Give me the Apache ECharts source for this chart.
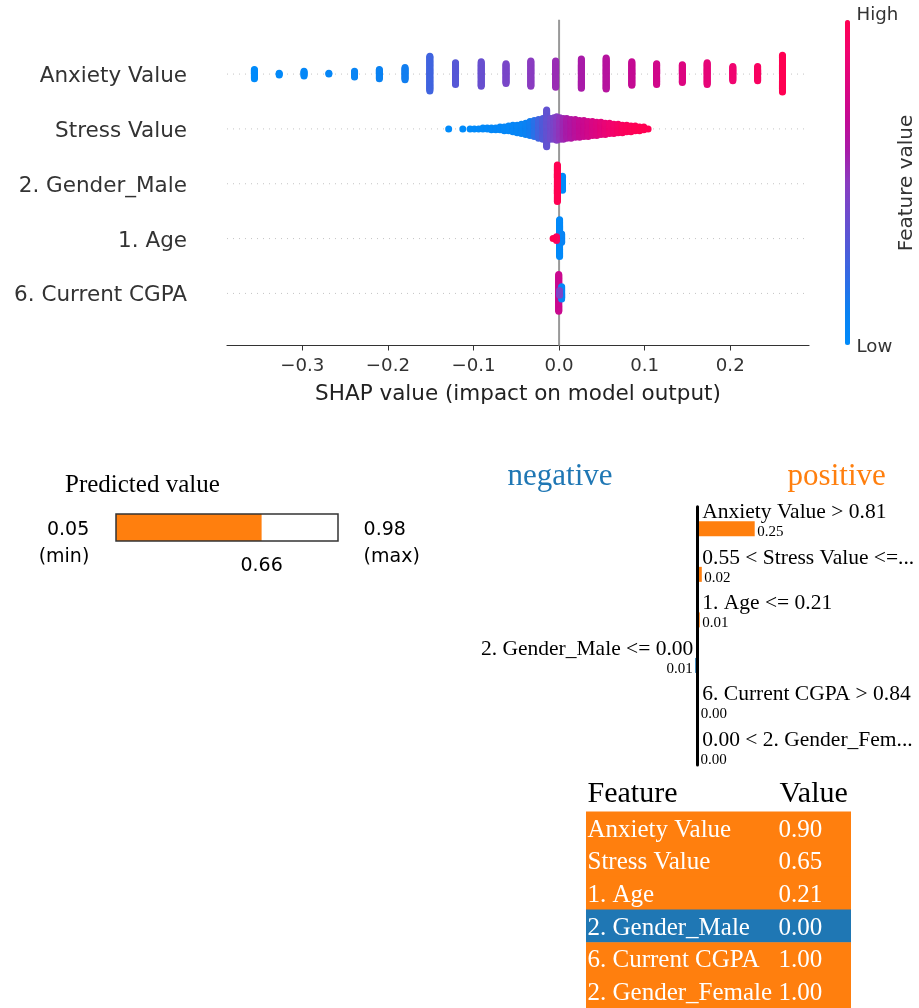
<!DOCTYPE html>
<html><head><meta charset="utf-8">
<style>html,body{margin:0;padding:0;background:#fff}#c{width:919px;height:1008px}</style>
<script src="https://cdn.jsdelivr.net/npm/echarts@6/dist/echarts.min.js"></script>
</head><body><div id="c"></div>
<script>
// ---------------- SHAP beeswarm data ----------------
const shapFeatures = ['6. Current CGPA', '1. Age', '2. Gender_Male', 'Stress Value', 'Anxiety Value']; // bottom -> top
const shapTicks = [-0.3, -0.2, -0.1, 0.0, 0.1, 0.2];
const colorTicks = ['High', 'Low'];

const anxietyShap  = [-0.356, -0.327, -0.298, -0.269, -0.239, -0.210, -0.180, -0.151, -0.121, -0.091, -0.062,
                      -0.033, -0.004, 0.026, 0.055, 0.085, 0.114, 0.144, 0.173, 0.203, 0.232, 0.261];
const anxietyCount = [11, 3, 6, 2, 7, 11, 14, 38, 24, 27, 22, 28, 29, 32, 34, 26, 23, 20, 24, 16, 16, 40];
const anxietyFeat  = [0.0, 0.02, 0.04, 0.06, 0.08, 0.10, 0.12, 0.25, 0.32, 0.38, 0.44, 0.50, 0.55, 0.60, 0.65,
                      0.70, 0.75, 0.80, 0.85, 0.90, 0.95, 1.0];

const stressShap  = [-0.129, -0.1125, -0.104, -0.099, -0.094, -0.089, -0.084, -0.079, -0.074, -0.069, -0.064,
                     -0.059, -0.054, -0.049, -0.044, -0.039, -0.034, -0.029, -0.024, -0.019, -0.0145, -0.010,
                     -0.006, -0.0027, 0.001, 0.005, 0.009, 0.014, 0.019, 0.024, 0.029, 0.034, 0.039, 0.044,
                     0.049, 0.054, 0.059, 0.064, 0.069, 0.074, 0.079, 0.084, 0.089, 0.094, 0.099, 0.104];
const stressCount = [1, 1, 1, 1, 1, 2, 2, 3, 3, 4, 5, 6, 8, 9, 11, 13, 16, 18, 21, 23, 40, 23, 24, 26, 24, 23,
                     22, 21, 20, 19, 18, 17, 16, 15, 14, 13, 12, 11, 10, 9, 8, 7, 6, 5, 4, 1];
const stressFeat  = [0.0, 0.0, 0.01, 0.01, 0.02, 0.02, 0.03, 0.03, 0.04, 0.04, 0.05, 0.05, 0.06, 0.07, 0.08,
                     0.10, 0.12, 0.18, 0.25, 0.30, 0.36, 0.40, 0.44, 0.48, 0.52, 0.56, 0.60, 0.63, 0.66, 0.69,
                     0.72, 0.75, 0.78, 0.80, 0.83, 0.86, 0.89, 0.92, 0.94, 0.96, 0.97, 0.98, 0.99, 1.0, 1.0, 1.0];

const genderShap  = [0.004, -0.002];
const genderCount = [16, 40];
const genderFeat  = [0.0, 1.0];

const ageShap  = [0.0006, 0.003, -0.003, -0.007];
const ageCount = [40, 10, 5, 1];
const ageFeat  = [0.02, 0.08, 0.95, 1.0];

const cgpaShap  = [-0.0004, 0.003, 0.0005];
const cgpaCount = [40, 14, 6];
const cgpaFeat  = [0.72, 0.05, 0.45];

// ---------------- Predicted value ----------------
const predMin = 0.05, predMax = 0.98, predVal = 0.66;

// ---------------- LIME explanation ----------------
const limeLabels = ['Anxiety Value > 0.81', '0.55 < Stress Value <=...', '1. Age <= 0.21',
                    '2. Gender_Male <= 0.00', '6. Current CGPA > 0.84', '0.00 < 2. Gender_Fem...'];
const limeVals = [0.25, 0.018, 0.009, -0.011, 0.002, 0.001];

// ---------------- Feature table ----------------
const tableFeatures = ['Anxiety Value', 'Stress Value', '1. Age', '2. Gender_Male', '6. Current CGPA', '2. Gender_Female'];
const tableVals = [0.90, 0.65, 0.21, 0.00, 1.00, 1.00];

// ---------------- styling ----------------
const ORANGE = '#ff7f0e', BLUE = '#1f77b4';
const SANS = '"DejaVu Sans"', SERIF = '"Liberation Serif"';
const cmap = ['#008bfb', '#0a82f2', '#2f6de6', '#505ad8', '#6e4ccd', '#8a3cc0', '#a81ba8', '#c40a93', '#dc0680', '#f00470', '#ff0052'];
const beeMin = -0.388, beeMax = 0.292, beeYMin = -0.95, beeYMax = 4.99;

// SHAP-style beeswarm layout (same binning/layering as shap.summary_plot)
function beeswarm(shaps, counts, feats, pos) {
  const pts = [];
  shaps.forEach((s, i) => { for (let k = 0; k < counts[i]; k++) pts.push({ x: s, f: feats[i], idx: pts.length }); });
  const xs = pts.map(p => p.x);
  const mn = Math.min(...xs), mx = Math.max(...xs);
  const nbins = 100;
  pts.forEach(p => { p.q = Math.round(nbins * (p.x - mn) / (mx - mn + 1e-8)); });
  const order = pts.slice().sort((a, b) => a.q - b.q || a.idx - b.idx);
  let layer = 0, last = -1;
  order.forEach(p => {
    if (p.q !== last) layer = 0;
    p.ys = Math.ceil(layer / 2) * ((layer % 2) * 2 - 1);
    layer++; last = p.q;
  });
  const maxYs = Math.max(...pts.map(p => p.ys + 1));
  const sc = 0.9 * (0.4 / maxYs);
  return pts.map(p => [p.x, pos + p.ys * sc, p.f]);
}

const beePoints = [].concat(
  beeswarm(cgpaShap, cgpaCount, cgpaFeat, 0),
  beeswarm(ageShap, ageCount, ageFeat, 1),
  beeswarm(genderShap, genderCount, genderFeat, 2),
  beeswarm(stressShap, stressCount, stressFeat, 3),
  beeswarm(anxietyShap, anxietyCount, anxietyFeat, 4)
);

function txt(x, y, text, size, family, fill, align, rotation) {
  return { type: 'text', x: x, y: y, rotation: rotation || 0, silent: true,
    style: { text: text, font: size + 'px ' + family, fill: fill, align: align, verticalAlign: 'middle' } };
}

const chart = echarts.init(document.getElementById('c'), null, { renderer: 'canvas', width: 919, height: 1008 });

const option = {
  animation: false,
  backgroundColor: '#fff',
  grid: [
    { left: 227, top: 19.8, width: 582, height: 325.7 },
    { left: 116, top: 514, width: 222, height: 27 },
    { left: 469.7, top: 506.7, width: 433.2, height: 258.3 },
    { left: 586, top: 811.7, width: 265, height: 196.8 }
  ],
  xAxis: [
    { gridIndex: 0, type: 'value', min: beeMin, max: beeMax,
      axisLine: { onZero: false, lineStyle: { color: '#333', width: 1.2 } },
      axisTick: { customValues: shapTicks, length: 5, lineStyle: { color: '#333', width: 1 } },
      axisLabel: { customValues: shapTicks, showMinLabel: true, showMaxLabel: true,
        formatter: v => v.toFixed(1).replace('-', '\u2212'), fontSize: 18.2, fontFamily: 'DejaVu Sans', color: '#333', margin: 12 },
      splitLine: { show: false },
      name: 'SHAP value (impact on model output)', nameLocation: 'middle', nameGap: 38,
      nameTextStyle: { fontSize: 21.5, fontFamily: 'DejaVu Sans', color: '#222' } },
    { gridIndex: 1, type: 'value', min: predMin, max: predMax, show: false },
    { gridIndex: 2, type: 'value', min: -1, max: 0.9, show: false },
    { gridIndex: 3, type: 'value', min: 0, max: 1, show: false }
  ],
  yAxis: [
    { gridIndex: 0, type: 'value', min: beeYMin, max: beeYMax,
      axisLine: { show: false, onZero: false }, axisTick: { show: false, customValues: [0, 1, 2, 3, 4] },
      splitLine: { show: false },
      axisLabel: { customValues: [0, 1, 2, 3, 4],
        formatter: v => { const n = Number.isInteger(v) && shapFeatures[v]; return n ? '{f|' + n + '}' : ''; },
        margin: 40,
        rich: { f: { fontSize: 21.5, fontFamily: 'DejaVu Sans', color: '#333', padding: [5, 0, 0, 0] } } } },
    { gridIndex: 1, type: 'value', min: -1, max: 1, show: false },
    { gridIndex: 2, type: 'value', inverse: true, min: -0.486, max: 5.187, z: 3,
      axisLine: { show: true, onZero: true, lineStyle: { color: '#000', width: 3 } },
      axisTick: { show: false }, axisLabel: { show: false }, splitLine: { show: false } },
    { gridIndex: 3, type: 'value', inverse: true, min: -0.5, max: 5.5, show: false }
  ],
  visualMap: {
    type: 'continuous', min: 0, max: 1, dimension: 2, seriesIndex: 2, orient: 'vertical',
    left: 845, top: 20, padding: 0, itemWidth: 5, itemHeight: 325, calculable: false, hoverLink: false,
    text: null, inRange: { color: cmap }
  },
  graphic: [
    txt(856.5, 15, colorTicks[0], 18.2, SANS, '#333', 'left'),
    txt(856.5, 347, colorTicks[1], 18.2, SANS, '#333', 'left'),
    txt(907, 183, 'Feature value', 20, SANS, '#333', 'center', Math.PI / 2),
    txt(65, 485, 'Predicted value', 25, SERIF, '#000', 'left'),
    txt(560, 477, 'negative', 31, SERIF, BLUE, 'center'),
    txt(836.7, 477, 'positive', 31, SERIF, ORANGE, 'center'),
    txt(587.5, 794, 'Feature', 30, SERIF, '#000', 'left'),
    txt(779.5, 794, 'Value', 30, SERIF, '#000', 'left')
  ],
  series: [
    { type: 'custom', name: 'rows', xAxisIndex: 0, yAxisIndex: 0, z: 1, silent: true,
      data: shapFeatures.map((_, i) => [0, i]),
      renderItem: (p, api) => {
        const r = api.value(1);
        const a = api.coord([beeMin, r]), b = api.coord([beeMax, r]);
        return { type: 'line', shape: { x1: a[0], y1: a[1], x2: b[0], y2: b[1] },
          style: { stroke: '#c4c4c4', lineWidth: 1, lineDash: [1, 5] } };
      } },
    { type: 'line', name: 'zero', xAxisIndex: 0, yAxisIndex: 0, z: 1, silent: true, symbol: 'none',
      data: [[0, beeYMin], [0, beeYMax]], lineStyle: { color: '#999', width: 2 } },
    { type: 'scatter', name: 'shap', xAxisIndex: 0, yAxisIndex: 0, z: 3, silent: true,
      symbolSize: 7, data: beePoints, itemStyle: { opacity: 1 } },
    { type: 'custom', name: 'pred', xAxisIndex: 1, yAxisIndex: 1, silent: true,
      data: [[predVal, 0]],
      renderItem: (p, api) => {
        const x0 = api.coord([predMin, 0])[0], x1 = api.coord([api.value(0), 0])[0], x2 = api.coord([predMax, 0])[0];
        const yc = api.coord([predMin, 0])[1];
        const h = 27;
        const f = '19px ' + SANS;
        return { type: 'group', children: [
          { type: 'rect', shape: { x: x0, y: yc - h / 2, width: x1 - x0, height: h }, style: { fill: ORANGE } },
          { type: 'rect', shape: { x: x0, y: yc - h / 2, width: x2 - x0, height: h }, style: { fill: 'none', stroke: '#333', lineWidth: 1.5 } },
          { type: 'text', x: x1, y: yc + 38.5, style: { text: predVal.toFixed(2), font: f, fill: '#000', align: 'center', verticalAlign: 'middle' } },
          { type: 'text', x: x0 - 26.7, y: yc + 2.5, style: { text: predMin.toFixed(2), font: f, fill: '#000', align: 'right', verticalAlign: 'middle' } },
          { type: 'text', x: x0 - 26.7, y: yc + 30, style: { text: '(min)', font: f, fill: '#000', align: 'right', verticalAlign: 'middle' } },
          { type: 'text', x: x2 + 25.6, y: yc + 2.5, style: { text: predMax.toFixed(2), font: f, fill: '#000', align: 'left', verticalAlign: 'middle' } },
          { type: 'text', x: x2 + 25.6, y: yc + 30, style: { text: '(max)', font: f, fill: '#000', align: 'left', verticalAlign: 'middle' } }
        ] };
      } },
    { type: 'custom', name: 'lime', xAxisIndex: 2, yAxisIndex: 2, silent: true, z: 2,
      data: limeVals.map((v, i) => [v, i]),
      renderItem: (p, api) => {
        const i = p.dataIndex;
        const v = api.value(0), r = api.value(1);
        const p0 = api.coord([0, r]), p1 = api.coord([v, r]);
        const pos = v >= 0;
        const bw = 15;
        return { type: 'group', children: [
          { type: 'rect', shape: { x: Math.min(p0[0], p1[0]), y: p0[1] - bw / 2, width: Math.abs(p1[0] - p0[0]), height: bw },
            style: { fill: pos ? ORANGE : BLUE } },
          { type: 'text', x: p0[0] + (pos ? 4.6 : -4.4), y: p0[1] - 16.4,
            style: { text: limeLabels[i], font: '21.5px ' + SERIF, fill: '#000', align: pos ? 'left' : 'right', verticalAlign: 'middle' } },
          { type: 'text', x: p1[0] + (pos ? 2.5 : -2.5), y: p0[1] + 3.5,
            style: { text: Math.abs(v).toFixed(2), font: '15px ' + SERIF, fill: '#000', align: pos ? 'left' : 'right', verticalAlign: 'middle' } }
        ] };
      } },
    { type: 'custom', name: 'table', xAxisIndex: 3, yAxisIndex: 3, silent: true,
      data: tableFeatures.map((_, i) => [0, i]),
      renderItem: (p, api) => {
        const i = p.dataIndex;
        const a = api.coord([0, i]), b = api.coord([1, i]);
        const bh = api.size([0, 1])[1];
        const f = '25px ' + SERIF;
        return { type: 'group', children: [
          { type: 'rect', shape: { x: a[0], y: a[1] - bh / 2 - 0.3, width: b[0] - a[0], height: bh + 0.6 },
            style: { fill: limeVals[i] < 0 ? BLUE : ORANGE } },
          { type: 'text', x: a[0] + 1.5, y: a[1] + 2, style: { text: tableFeatures[i], font: f, fill: '#fff', align: 'left', verticalAlign: 'middle' } },
          { type: 'text', x: a[0] + 192.5, y: a[1] + 2, style: { text: tableVals[i].toFixed(2), font: f, fill: '#fff', align: 'left', verticalAlign: 'middle' } }
        ] };
      } }
  ]
};
chart.setOption(option);
</script>
</body></html>
